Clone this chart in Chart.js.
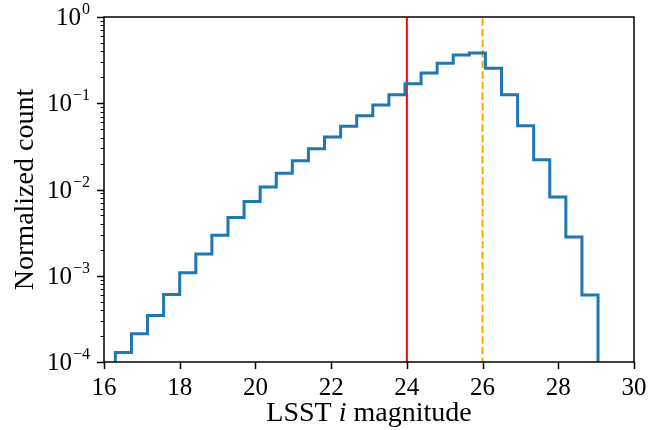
<!DOCTYPE html>
<html>
<head>
<meta charset="utf-8">
<script src="https://cdn.jsdelivr.net/npm/chart.js@4.4.1/dist/chart.umd.min.js"></script>
<style>
  html, body { margin: 0; padding: 0; background: #ffffff; }
  #wrap { width: 671px; height: 430px; }
</style>
</head>
<body>
<div id="wrap"><canvas id="histChart" width="671" height="430"></canvas></div>
<script>
// histogram bin edges (LSST i magnitude)
const binEdges = [16.3, 16.725, 17.15, 17.575, 18.0, 18.425, 18.85, 19.275, 19.7, 20.125,
    20.55, 20.975, 21.4, 21.825, 22.25, 22.675, 23.1, 23.525, 23.95, 24.375,
    24.8, 25.225, 25.65, 26.075, 26.5, 26.925, 27.35, 27.775, 28.2, 28.625, 29.05];

// normalized count per bin
const binCounts = [1.29e-4, 2.13e-4, 3.47e-4, 6.08e-4, 1.08e-3, 1.79e-3, 2.94e-3, 4.75e-3, 7.28e-3, 1.07e-2,
    1.54e-2, 2.16e-2, 2.97e-2, 4.06e-2, 5.40e-2, 7.17e-2, 9.54e-2, 0.1257, 0.1686, 0.2243,
    0.290, 0.362, 0.383, 0.254, 0.1257, 0.0549, 0.0222, 8.18e-3, 2.81e-3, 5.98e-4];

const xTicks = [16, 18, 20, 22, 24, 26, 28, 30];
const yTicks = [1e-4, 1e-3, 1e-2, 1e-1, 1];
const yTickExp = ["\u22124", "\u22123", "\u22122", "\u22121", "0"];

const limitMag = 24;     // red line
const depthMag = 26;     // orange dashed line

const serif = "'Liberation Serif', 'DejaVu Serif', serif";

// step outline, starting and ending below the axis like a step histogram
let stepPoints = [{ x: binEdges[0], y: 1e-6 }];
binCounts.forEach((c, i) => stepPoints.push({ x: binEdges[i], y: c }));
stepPoints.push({ x: binEdges[binEdges.length - 1], y: binCounts[binCounts.length - 1] });
stepPoints.push({ x: binEdges[binEdges.length - 1], y: 1e-6 });

const axesPlugin = {
    id: "mplAxes",
    afterDatasetsDraw(chart) {
        const ctx = chart.ctx;
        const a = chart.chartArea;
        const xs = chart.scales.x, ys = chart.scales.y;
        ctx.save();
        ctx.strokeStyle = "#000";
        ctx.fillStyle = "#000";
        ctx.lineWidth = 1.5;

        // frame
        ctx.strokeRect(a.left, a.top, a.right - a.left, a.bottom - a.top);

        // x major ticks
        ctx.beginPath();
        xTicks.forEach(v => {
            let px = Math.round(xs.getPixelForValue(v)) + 0.5;
            ctx.moveTo(px, a.bottom);
            ctx.lineTo(px, a.bottom + 7);
        });
        // y major + minor ticks
        yTicks.forEach((v, i) => {
            let py = Math.round(ys.getPixelForValue(v)) + 0.5;
            ctx.moveTo(a.left, py);
            ctx.lineTo(a.left - 7, py);
        });
        ctx.stroke();
        ctx.lineWidth = 1;
        ctx.beginPath();
        yTicks.slice(0, -1).forEach(v => {
            for (let m = 2; m <= 9; m++) {
                let py = Math.round(ys.getPixelForValue(v * m)) + 0.5;
                ctx.moveTo(a.left, py);
                ctx.lineTo(a.left - 3.5, py);
            }
        });
        ctx.stroke();

        // y tick labels 10^n
        ctx.textBaseline = "alphabetic";
        ctx.textAlign = "left";
        yTicks.forEach((v, i) => {
            let py = ys.getPixelForValue(v);
            ctx.font = "16px " + serif;
            let we = ctx.measureText(yTickExp[i]).width;
            ctx.font = "25px " + serif;
            let wb = ctx.measureText("10").width;
            let right = a.left - 14;
            ctx.fillText("10", right - we - wb - 1, py + 8);
            ctx.font = "16px " + serif;
            ctx.fillText(yTickExp[i], right - we, py - 3);
        });

        // x axis title with italic i
        let parts = [["LSST ", ""], ["i", "italic "], [" magnitude", ""]];
        let total = 0;
        parts.forEach(p => { ctx.font = p[1] + "28px " + serif; total += ctx.measureText(p[0]).width; });
        let cx = (a.left + a.right) / 2 - total / 2;
        parts.forEach(p => {
            ctx.font = p[1] + "28px " + serif;
            ctx.fillText(p[0], cx, 421);
            cx += ctx.measureText(p[0]).width;
        });

        // y axis title
        ctx.translate(33, (a.top + a.bottom) / 2);
        ctx.rotate(-Math.PI / 2);
        ctx.textAlign = "center";
        ctx.font = "28px " + serif;
        ctx.fillText("Normalized count", 0, 0);
        ctx.restore();
    }
};

new Chart(document.getElementById("histChart"), {
    type: "line",
    data: {
        datasets: [
            {
                data: stepPoints,
                stepped: "before",
                borderColor: "#1f77b4",
                borderWidth: 3,
                pointRadius: 0,
                fill: false
            },
            {
                data: [{ x: limitMag, y: 1e-6 }, { x: limitMag, y: 10 }],
                borderColor: "#ff0000",
                borderWidth: 2,
                pointRadius: 0
            },
            {
                data: [{ x: depthMag, y: 1e-6 }, { x: depthMag, y: 10 }],
                borderColor: "#ffa500",
                borderWidth: 2,
                borderDash: [7.4, 3.2],
                pointRadius: 0
            }
        ]
    },
    options: {
        responsive: false,
        animation: false,
        devicePixelRatio: 1,
        layout: { padding: { top: 17, right: 37, left: 0, bottom: 0 } },
        plugins: {
            legend: { display: false },
            tooltip: { enabled: false }
        },
        scales: {
            x: {
                type: "linear",
                min: 16,
                max: 30,
                afterBuildTicks: scale => { scale.ticks = xTicks.map(v => ({ value: v })); },
                ticks: {
                    color: "#000",
                    font: { family: serif, size: 25 },
                    padding: 3,
                    maxRotation: 0
                },
                grid: { display: false },
                border: { display: false },
                afterFit: scale => { scale.height = 68; }
            },
            y: {
                type: "logarithmic",
                min: 1e-4,
                max: 1,
                ticks: { display: false },
                grid: { display: false },
                border: { display: false },
                afterFit: scale => { scale.width = 104; }
            }
        }
    },
    plugins: [axesPlugin]
});
</script>
</body>
</html>
